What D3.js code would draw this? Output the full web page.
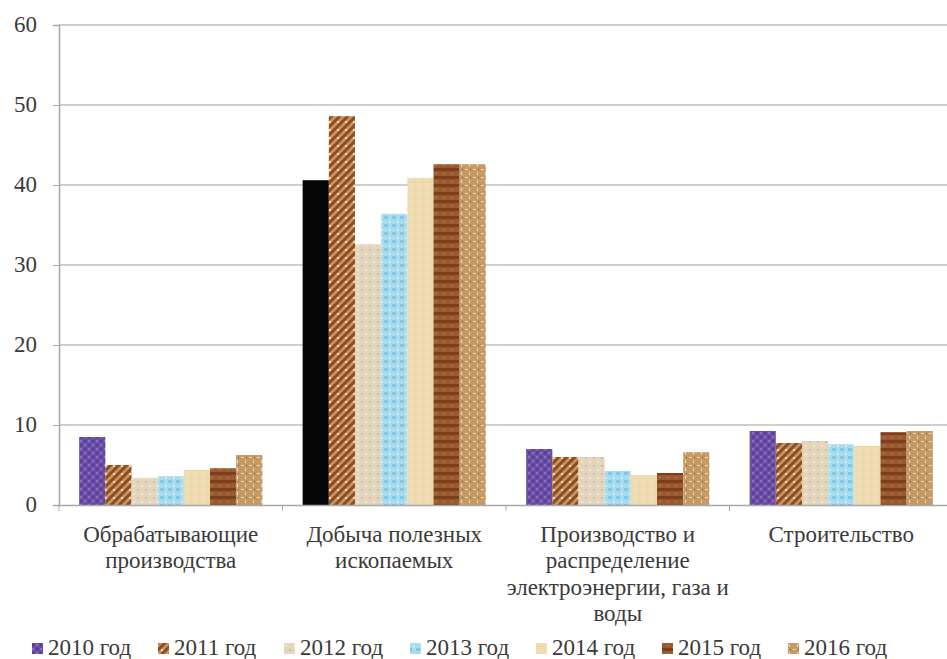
<!DOCTYPE html>
<html><head><meta charset="utf-8">
<script src="https://cdn.jsdelivr.net/npm/d3@7"></script>
<style>body{margin:0;background:#fff}svg{display:block}</style>
</head><body>
<svg id="c" width="947" height="659"></svg>
<script>
const categories = [
  ["Обрабатывающие","производства"],
  ["Добыча полезных","ископаемых"],
  ["Производство и","распределение","электроэнергии, газа и","воды"],
  ["Строительство"]
];
const years = ["2010 год","2011 год","2012 год","2013 год","2014 год","2015 год","2016 год"];
const v2010 = [8.5, 40.6, 7.0, 9.25];
const v2011 = [5.0, 48.6, 6.0, 7.75];
const v2012 = [3.4, 32.6, 6.0, 8.0];
const v2013 = [3.6, 36.4, 4.25, 7.6];
const v2014 = [4.4, 40.9, 3.75, 7.4];
const v2015 = [4.6, 42.6, 4.0, 9.1];
const v2016 = [6.25, 42.6, 6.6, 9.25];
const yTicks = [0,10,20,30,40,50,60];
const series = [v2010,v2011,v2012,v2013,v2014,v2015,v2016];

const fontName = "Liberation Serif";
const TXT = "#3a3a3a";
const svg = d3.select("#c");
const defs = svg.append("defs");
function setFont(sel){ return sel.style("font-family", `"${fontName}"`).attr("font-size", 23).attr("fill", TXT); }
function pat(id, base, draw){
  const p = defs.append("pattern").attr("id",id).attr("patternUnits","userSpaceOnUse")
    .attr("width",8).attr("height",8);
  p.append("rect").attr("width",8).attr("height",8).attr("fill",base);
  draw(p);
}
pat("p0","#6a4ea6",p=>{
  p.append("rect").attr("x",0).attr("y",0).attr("width",2).attr("height",2).attr("fill","#8b72c4");
  p.append("rect").attr("x",4).attr("y",4).attr("width",2).attr("height",2).attr("fill","#8b72c4");
  p.append("rect").attr("x",4).attr("y",0).attr("width",2).attr("height",2).attr("fill","#523a8c");
  p.append("rect").attr("x",0).attr("y",4).attr("width",2).attr("height",2).attr("fill","#523a8c");
});
pat("p1","#c8945c",p=>{
  p.append("path").attr("d","M0,8 L8,0").attr("stroke","#8a4b26").attr("stroke-width",3);
  p.append("path").attr("d","M-2,2 L2,-2 M6,10 L10,6").attr("stroke","#8a4b26").attr("stroke-width",3);
  p.append("rect").attr("x",1).attr("y",1).attr("width",2).attr("height",2).attr("fill","#ecd6a6");
});
pat("p2","#e4d6bc",p=>{
  p.append("rect").attr("x",1).attr("y",1).attr("width",2).attr("height",2).attr("fill","#c4bcbc");
  p.append("rect").attr("x",5).attr("y",5).attr("width",2).attr("height",2).attr("fill","#f2e6c8");
});
pat("p3","#a6dcee",p=>{
  p.append("rect").attr("x",0).attr("y",0).attr("width",4).attr("height",3).attr("fill","#7ec6e2");
  p.append("rect").attr("x",5).attr("y",5).attr("width",2).attr("height",2).attr("fill","#d4ecec");
});
pat("p4","#eedcae",p=>{
  p.append("rect").attr("x",2).attr("y",2).attr("width",2).attr("height",2).attr("fill","#e6e6da");
  p.append("rect").attr("x",6).attr("y",6).attr("width",1).attr("height",1).attr("fill","#d8c8a0");
});
pat("p5","#9a5a30",p=>{
  p.append("rect").attr("x",0).attr("y",0).attr("width",8).attr("height",3).attr("fill","#7c3e1c");
  p.append("rect").attr("x",3).attr("y",5).attr("width",2).attr("height",1).attr("fill","#c08050");
});
pat("p6","#c49a66",p=>{
  p.append("rect").attr("x",1).attr("y",1).attr("width",3).attr("height",1).attr("fill","#f2dca8");
  p.append("rect").attr("x",5).attr("y",4).attr("width",1).attr("height",3).attr("fill","#f2dca8");
  p.append("rect").attr("x",6).attr("y",1).attr("width",1).attr("height",1).attr("fill","#8a4a26");
});

const mLeft = 59, mBottom = 505, mTop = 25, bandW = 223.5;
const x0 = d3.scaleBand().domain(d3.range(categories.length)).range([mLeft, mLeft + bandW*categories.length]).padding(0);
const x1 = d3.scaleBand().domain(d3.range(years.length)).range([0, x0.bandwidth()]).paddingInner(0).paddingOuter(0.77);
const y = d3.scaleLinear().domain([0,60]).range([mBottom, mTop]);

svg.append("g").selectAll("line").data(yTicks.filter(t=>t>0)).join("line")
  .attr("x1",mLeft).attr("x2",947).attr("y1",d=>y(d)).attr("y2",d=>y(d))
  .attr("stroke","#bcc0b8").attr("stroke-width",1.5);

// y axis line + ticks through d3 axis, labels drawn as own texts
const ya = svg.append("g").attr("transform",`translate(${mLeft},0)`)
  .call(d3.axisLeft(y).tickValues(yTicks).tickSize(6).tickFormat(""));
ya.select(".domain").attr("stroke","#a8a8a8").attr("stroke-width",1.5);
ya.selectAll(".tick line").attr("stroke","#a8a8a8");
yTicks.forEach(t=>{
  setFont(svg.append("text")).attr("x", 37).attr("y", y(t)).attr("dy","0.32em")
    .attr("text-anchor","end").text(t);
});

const g = svg.append("g");
categories.forEach((c,ci)=>{
  series.forEach((s,si)=>{
    const fill = (ci===1 && si===0) ? "#050505" : `url(#p${si})`;
    g.append("rect")
      .attr("x", x0(ci) + x1(si))
      .attr("y", y(s[ci]))
      .attr("width", x1.bandwidth())
      .attr("height", mBottom - y(s[ci]))
      .attr("fill", fill);
  });
});

const xa = svg.append("g").attr("transform",`translate(0,${mBottom})`)
  .call(d3.axisBottom(x0).tickSize(0).tickFormat(""));
xa.select(".domain").attr("stroke","#a8a8a8").attr("stroke-width",1.5);
xa.selectAll(".tick").remove();
svg.append("g").selectAll("line").data(d3.range(categories.length+1)).join("line")
  .attr("x1",d=>mLeft+d*bandW).attr("x2",d=>mLeft+d*bandW)
  .attr("y1",mBottom).attr("y2",mBottom+6).attr("stroke","#a8a8a8");

categories.forEach((lines,ci)=>{
  lines.forEach((ln,li)=>{
    setFont(svg.append("text")).attr("text-anchor","middle")
      .attr("x", x0(ci)+x0.bandwidth()/2).attr("y", 542 + li*26.3).text(ln);
  });
});

years.forEach((yr,i)=>{
  const lx = 32 + i*126;
  svg.append("rect").attr("x",lx).attr("y",643).attr("width",11).attr("height",11)
    .attr("fill",`url(#p${i})`);
  setFont(svg.append("text")).attr("x",lx+16).attr("y",655).text(yr);
});
</script>
</body></html>
